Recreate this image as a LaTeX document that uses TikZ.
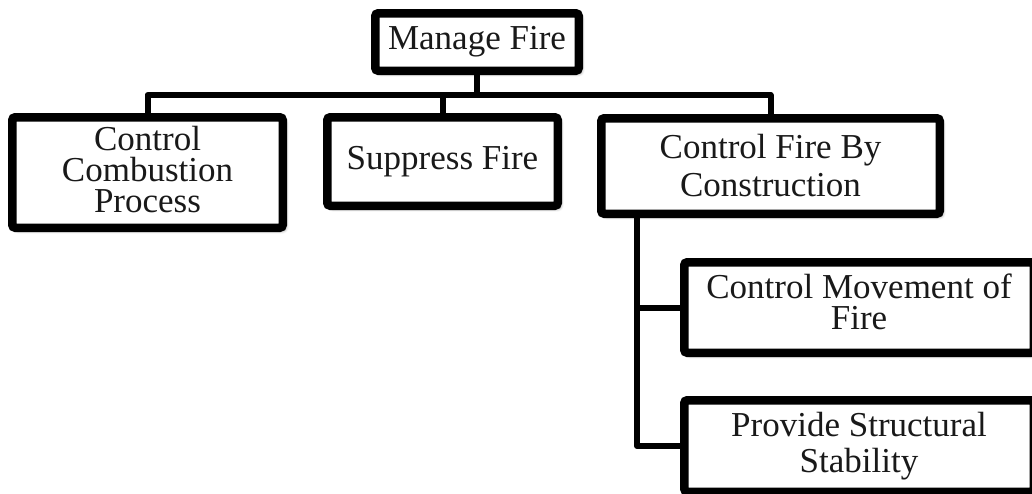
\documentclass[tikz,border=0pt]{standalone}
\usepackage{fontspec}
\setmainfont{Liberation Serif}
\usetikzlibrary{shadows.blur,calc}
\begin{document}
\begin{tikzpicture}[x=1pt,y=-1pt,
  fbox/.style={draw=black,fill=white,line width=8.5pt,rounded corners=3pt,
    inner sep=0pt,align=center,text=black!90,
    blur shadow={shadow xshift=3pt,shadow yshift=-3pt,shadow blur radius=3pt,shadow opacity=45}},
  conn/.style={draw=black,line width=6pt,line join=round}]
\useasboundingbox (0,0) rectangle (1032,493);
\clip (0,0) rectangle (1032,493);
\node[fbox,minimum width=203.5pt,minimum height=57.5pt,font=\fontsize{35}{31}\selectfont] (mf) at (477,42) {Manage Fire};
\node[fbox,minimum width=270.5pt,minimum height=110.5pt,font=\fontsize{35}{31}\selectfont] (ccp) at (147.5,172.5) {Control\\Combustion\\Process\rule[-6pt]{0pt}{6pt}};
\node[fbox,minimum width=230.5pt,minimum height=88.5pt,font=\fontsize{35}{31}\selectfont] (sf) at (442.5,161.5) {Suppress Fire};
\node[fbox,minimum width=338.5pt,minimum height=95.5pt,font=\fontsize{35}{38}\selectfont] (cfbc) at (770.5,166) {Control Fire By\\Construction};
\node[fbox,minimum width=349.5pt,minimum height=90.5pt,font=\fontsize{35}{31}\selectfont] (cmf) at (859,307.5) {Control Movement of\\Fire\rule[-11pt]{0pt}{11pt}};
\node[fbox,minimum width=349.5pt,minimum height=91.5pt,font=\fontsize{35}{36}\selectfont] (pss) at (859,446) {Provide Structural\\Stability};
\coordinate (bus) at ($(mf.south)+(0,20)$);
\draw[conn] (mf.south) -- (bus);
\draw[conn] (ccp.north) |- (bus) -| (cfbc.north);
\draw[conn] (sf.north) -- (sf.north |- bus);
\coordinate (trunk) at ($(cfbc.south west)+(40,0)$);
\draw[conn] (trunk) |- (pss.west);
\draw[conn] (trunk |- cmf.west) -- (cmf.west);
\end{tikzpicture}
\end{document}
